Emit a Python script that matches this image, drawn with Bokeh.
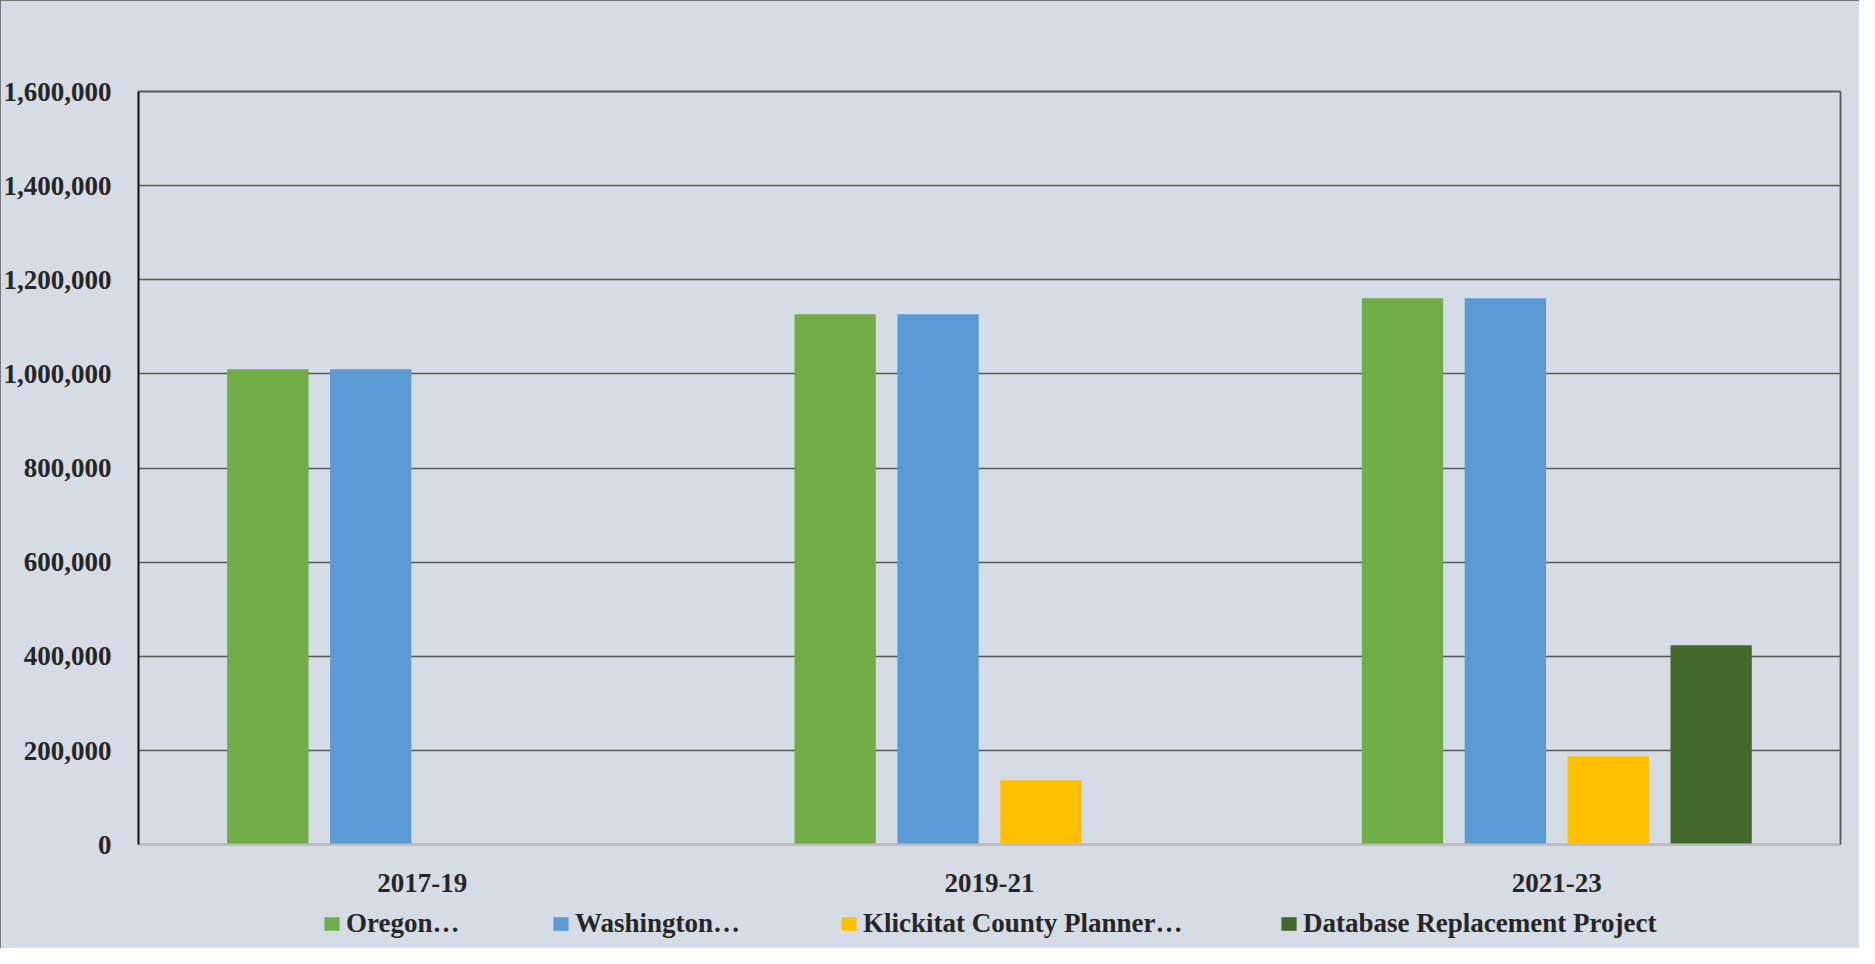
from bokeh.plotting import figure
from bokeh.models import (ColumnDataSource, FactorRange, Range1d, NumeralTickFormatter,
                          Legend, LegendItem, FixedTicker, LinearAxis)
from bokeh.transform import dodge
from bokeh.embed import file_html
from bokeh.resources import INLINE

# ---- data ----
periods = ["2017-19", "2019-21", "2021-23"]
oregon = [1010000, 1127000, 1161000]
washington = [1010000, 1127000, 1161000]
klickitat = [0, 137000, 188000]
database = [0, 0, 424000]
series_names = ["Oregon\u2026", "Washington\u2026", "Klickitat County Planner\u2026",
                "Database Replacement Project"]
series_cols = ["oregon", "washington", "klickitat", "database"]
series_colors = ["#70AD47", "#5B9BD5", "#FFC000", "#43682B"]
y_ticks = [0, 200000, 400000, 600000, 800000, 1000000, 1200000, 1400000, 1600000]

FONT = "Liberation Serif"
FSIZE = "27px"
TXT = "#262626"
BG = "#D6DCE5"
Y_MAX = 1600000
Y_BELOW = -211800   # room under the zero line for category labels and legend

src = ColumnDataSource(dict(period=periods, oregon=oregon, washington=washington,
                            klickitat=klickitat, database=database))

p = figure(x_range=FactorRange(factors=periods, range_padding=0),
           y_range=Range1d(Y_BELOW, Y_MAX),
           width=1859, height=948,
           min_border_left=129, min_border_right=19,
           min_border_top=91, min_border_bottom=4,
           output_backend="svg", toolbar_location=None)

p.background_fill_color = BG
p.border_fill_color = BG
p.outline_line_color = None
p.styles = {"outline": "2px solid #595959", "outline-offset": "-2px",
            "background-color": BG}

offsets = [-0.272, -0.0907, 0.0907, 0.272]
renderers = []
for col, off, color in zip(series_cols, offsets, series_colors):
    r = p.vbar(x=dodge("period", off, range=p.x_range), top=col, width=0.1433,
               source=src, fill_color=color, line_color=None)
    renderers.append(r)

# axes
p.yaxis.ticker = FixedTicker(ticks=y_ticks)
p.yaxis.formatter = NumeralTickFormatter(format="0,0")
p.yaxis.bounds = (0, Y_MAX)
p.xaxis.fixed_location = 0
for ax in (p.xaxis[0], p.yaxis[0]):
    ax.major_tick_line_color = None
    ax.minor_tick_line_color = None
    ax.major_label_text_font = FONT
    ax.major_label_text_font_style = "bold"
    ax.major_label_text_font_size = FSIZE
    ax.major_label_text_color = TXT
p.yaxis.axis_line_color = "#0d0d0d"
p.yaxis.axis_line_width = 2
p.yaxis.major_label_standoff = 21
p.xaxis.axis_line_color = "#BFBFBF"
p.xaxis.axis_line_width = 2
p.xaxis.major_label_standoff = 23

# plot-area border on the right and top
right_ax = LinearAxis(ticker=FixedTicker(ticks=[]), bounds=(0, Y_MAX),
                      axis_line_color="#595959", axis_line_width=1.75,
                      major_tick_line_color=None, minor_tick_line_color=None)
p.add_layout(right_ax, "right")
top_ax = LinearAxis(ticker=FixedTicker(ticks=[]),
                    axis_line_color="#595959", axis_line_width=2,
                    major_tick_line_color=None, minor_tick_line_color=None)
p.add_layout(top_ax, "above")

p.xgrid.grid_line_color = None
p.ygrid.grid_line_color = "#595959"
p.ygrid.grid_line_width = 1.3

# legend entries, one per series, under the category labels
legend_x = [184, 413, 701, 1141]
for name, r, lx in zip(series_names, renderers, legend_x):
    leg = Legend(items=[LegendItem(label=name, renderers=[r])],
                 location=(lx, 5), orientation="horizontal",
                 padding=0, margin=0, spacing=0,
                 glyph_width=19, glyph_height=17, label_standoff=5,
                 label_text_font=FONT, label_text_font_style="bold",
                 label_text_font_size=FSIZE, label_text_color=TXT,
                 background_fill_alpha=0, border_line_color=None)
    p.add_layout(leg)

open("out.html", "w").write(file_html(p, INLINE))
